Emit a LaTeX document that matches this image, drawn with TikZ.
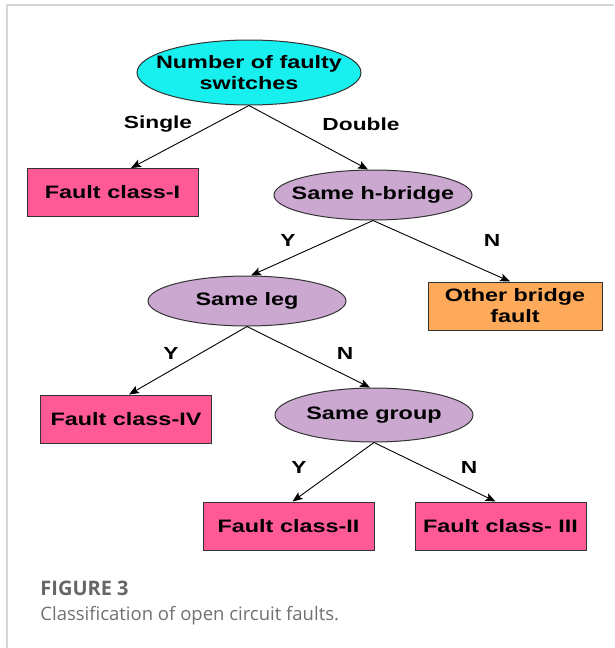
\documentclass[tikz,border=0pt]{standalone}
\usepackage{fontspec}
\usepackage{tikz}
\usetikzlibrary{arrows.meta, shapes.geometric, positioning, calc}
\newfontfamily\treefont{Liberation Sans}[FakeStretch=1.3]
\newfontfamily\capfont{Open Sans}
\definecolor{rootcyan}{RGB}{24,240,240}
\definecolor{classpink}{RGB}{255,90,150}
\definecolor{testlilac}{RGB}{202,168,208}
\definecolor{otherorange}{RGB}{255,170,90}
\definecolor{framegray}{RGB}{214,214,214}
\definecolor{capgray}{RGB}{112,112,112}
\tikzset{
    test/.style={ellipse, draw=black!80, line width=1pt, fill=testlilac, inner ysep=0pt,
      inner xsep=-12pt, minimum width=198pt, minimum height=50pt, align=center,
      font=\treefont\bfseries\fontsize{18}{21}\selectfont},
    leaf/.style={rectangle, draw=black!80, line width=1pt, fill=classpink, inner sep=0pt,
      minimum width=171pt, minimum height=48pt, align=center,
      font=\treefont\bfseries\fontsize{18}{21}\selectfont},
    branch/.style={inner sep=0pt, font=\treefont\bfseries\fontsize{17.5}{20}\selectfont},
    caption/.style={anchor=base west, inner sep=0pt, text=capgray},
}

\begin{document}
\begin{tikzpicture}[x=1pt, y=-1pt, line width=0.9pt,
    >={Stealth[length=10pt, width=8pt, inset=2pt]}]
    \useasboundingbox (0,0) rectangle (614,648);
    \draw[framegray, line width=1.2pt] (7,648) -- (7,5) -- (614,5);

    \node[test, fill=rootcyan, inner xsep=-16pt, minimum width=224pt, minimum height=65pt] (nfs) at (249,72.5) {Number of faulty\\switches};
    \node[leaf] (fc1) at (112.5,192.5) {Fault class-I};
    \node[test] (hbr) at (373,195) {Same h-bridge};
    \node[test] (leg) at (247,301) {Same leg};
    \node[leaf, fill=otherorange, minimum width=174pt] (obf) at (515,306) {Other bridge\\fault};
    \node[leaf] (fc4) at (126,419) {Fault class-IV};
    \node[test, minimum height=54pt] (grp) at (374,415) {Same group};
    \node[leaf] (fc2) at (288.5,526) {Fault class-II};
    \node[leaf] (fc3) at (500.5,526) {Fault class- III};

    \node[branch] (single) at (158,124) {Single};
    \node[branch] (double) at (361,124) {Double};
    \node[branch] (hbry) at (288,240) {Y};
    \node[branch] (hbrn) at (492,240) {N};
    \node[branch] (legy) at (171,353) {Y};
    \node[branch] (legn) at (345,353) {N};
    \node[branch] (grpy) at (299,467) {Y};
    \node[branch] (grpn) at (469,467) {N};

    \draw[->] (nfs.south) -- ([xshift=18.5pt]fc1.north);
    \draw[->] (nfs.south) -- ([xshift=-5pt]hbr.north);
    \draw[->] (hbr.south) -- ([xshift=4pt]leg.north);
    \draw[->] (hbr.south) -- ([xshift=-5pt]obf.north);
    \draw[->] (leg.south) -- ([xshift=3pt]fc4.north);
    \draw[->] (leg.south) -- ([xshift=-4pt]grp.north);
    \draw[->] (grp.south) -- ([xshift=4pt]fc2.north);
    \draw[->] (grp.south) -- ([xshift=-5pt]fc3.north);

    \node[caption, text=black!60, font=\capfont\bfseries\fontsize{20}{22}\selectfont] (figno) at (40,595) {FIGURE 3};
    \node[caption, font=\capfont\fontsize{18.5}{22}\selectfont] (figtext) at (40,620) {Classification of open circuit faults.};
\end{tikzpicture}
\end{document}
